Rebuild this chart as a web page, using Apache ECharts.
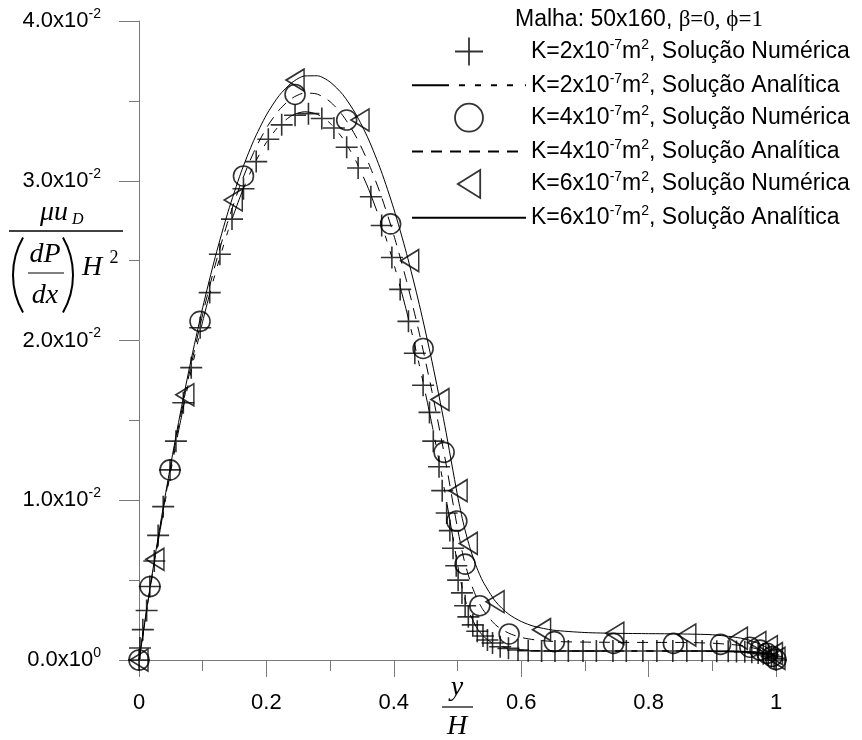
<!DOCTYPE html>
<html>
<head>
    <meta charset="UTF-8">
    <title>Perfil de velocidade - Malha 50x160</title>
    <style>
        html, body { margin: 0; padding: 0; background: #fff; }
        #main { width: 862px; height: 740px; }
    </style>
</head>
<body>
<div id="main"></div>
<script src="https://cdn.jsdelivr.net/npm/echarts@6.0.0/dist/echarts.min.js"></script>
<script>
    // ---- dados ----
    // K=2x10-7 m2, solucao numerica (cruzes)
    var numX2 = [0, 0.0016, 0.006, 0.012, 0.017, 0.024, 0.030, 0.038, 0.0487, 0.058, 0.0696, 0.082, 0.096,
        0.111, 0.127, 0.146, 0.164, 0.184, 0.203, 0.224, 0.245, 0.266, 0.287, 0.306, 0.326, 0.344, 0.364,
        0.381, 0.397, 0.410, 0.423, 0.433, 0.446, 0.456, 0.462, 0.471, 0.476, 0.483, 0.488, 0.493, 0.498,
        0.501, 0.507, 0.512, 0.517, 0.524, 0.531, 0.540, 0.547, 0.555, 0.567, 0.580, 0.595, 0.611, 0.632,
        0.653, 0.674, 0.697, 0.718, 0.744, 0.765, 0.791, 0.813, 0.838, 0.860, 0.884, 0.907, 0.925, 0.938,
        0.951, 0.962, 0.972, 0.980, 0.988, 0.993, 0.997, 1.0];
    var numY2 = [0, 0.00075, 0.0019, 0.0031, 0.0046, 0.0062, 0.0078, 0.0096, 0.0119, 0.0137, 0.0161, 0.0183, 0.0208,
        0.0230, 0.0254, 0.0276, 0.0295, 0.0312, 0.0326, 0.0335, 0.0341, 0.0342, 0.0339, 0.0333, 0.0321, 0.0308, 0.0290,
        0.0272, 0.0252, 0.0232, 0.0212, 0.0192, 0.0172, 0.0155, 0.0137, 0.0121, 0.0106, 0.0092, 0.0081, 0.0070, 0.0059,
        0.0050, 0.0042, 0.0034, 0.0027, 0.0022, 0.0018, 0.0015, 0.00125, 0.00106, 0.00083, 0.00073, 0.00063, 0.00058, 0.00056,
        0.00056, 0.00056, 0.00056, 0.00056, 0.00056, 0.00056, 0.00056, 0.00056, 0.00056, 0.00056, 0.00056, 0.00055, 0.00054, 0.00053,
        0.00051, 0.00048, 0.00044, 0.00039, 0.00031, 0.00022, 0.00011, 0];

    // K=2x10-7 m2, solucao analitica
    var anaX2 = [0, 0.02, 0.04, 0.06, 0.08, 0.10, 0.12, 0.14, 0.16, 0.18, 0.20, 0.22, 0.24, 0.26, 0.28, 0.30,
        0.32, 0.34, 0.36, 0.38, 0.40, 0.42, 0.44, 0.46, 0.48, 0.50, 0.505, 0.51, 0.515, 0.52, 0.53, 0.54, 0.55,
        0.56, 0.58, 0.60, 0.63, 0.66, 0.80, 0.90, 0.94, 0.96, 0.98, 0.99, 1.0];
    var anaY2 = [0, 0.00504, 0.00968, 0.01392, 0.01776, 0.02120, 0.02424, 0.02688, 0.02912, 0.03096, 0.03240,
        0.03344, 0.03408, 0.03432, 0.03416, 0.03360, 0.03264, 0.03128, 0.02952, 0.02736, 0.02480, 0.02184, 0.01848,
        0.01472, 0.01056, 0.00600, 0.00494, 0.00408, 0.00339, 0.00284, 0.00203, 0.00152, 0.00118, 0.00096, 0.00073,
        0.00063, 0.00058, 0.00056, 0.00056, 0.00056, 0.00054, 0.00049, 0.00036, 0.00023, 0];

    // K=4x10-7 m2, solucao numerica (circulos)
    var numX4 = [0, 0.0173, 0.0487, 0.0958, 0.164, 0.245, 0.326, 0.395, 0.446, 0.479, 0.499, 0.512, 0.535,
        0.581, 0.652, 0.745, 0.839, 0.913, 0.959, 0.975, 0.986, 0.994, 1.0];
    var numY4 = [0, 0.0046, 0.0119, 0.0212, 0.0303, 0.0354, 0.0338, 0.0273, 0.0195, 0.0130, 0.0087, 0.0060, 0.0034,
        0.00163, 0.00115, 0.00104, 0.00104, 0.00098, 0.00080, 0.00062, 0.00042, 0.00022, 0.00003];

    // K=4x10-7 m2, solucao analitica
    var anaX4 = [0, 0.02, 0.04, 0.06, 0.08, 0.10, 0.12, 0.14, 0.16, 0.18, 0.20, 0.22, 0.24, 0.26, 0.28, 0.30,
        0.32, 0.34, 0.36, 0.38, 0.40, 0.42, 0.44, 0.46, 0.48, 0.50, 0.51, 0.52, 0.53, 0.54, 0.56, 0.58, 0.60,
        0.63, 0.66, 0.70, 0.80, 0.85, 0.90, 0.94, 0.96, 0.98, 0.99, 1.0];
    var anaY4 = [0, 0.00513, 0.00986, 0.01419, 0.01812, 0.02165, 0.02478, 0.02751, 0.02984, 0.03177, 0.03330,
        0.03443, 0.03516, 0.03549, 0.03542, 0.03495, 0.03408, 0.03281, 0.03114, 0.02907, 0.02660, 0.02373, 0.02046,
        0.01679, 0.01272, 0.00825, 0.00633, 0.00493, 0.00390, 0.00315, 0.00219, 0.00169, 0.00141, 0.00122, 0.00115,
        0.00112, 0.00110, 0.00110, 0.00105, 0.00093, 0.00080, 0.00055, 0.00035, 0];

    // K=6x10-7 m2, solucao numerica (triangulos)
    var numX6 = [0, 0.025, 0.072, 0.148, 0.245, 0.347, 0.425, 0.4725, 0.501, 0.517, 0.559, 0.632, 0.747,
        0.860, 0.941, 0.970, 0.988, 0.996, 1.0];
    var numY6 = [0, 0.0063, 0.0166, 0.0288, 0.0363, 0.0338, 0.0250, 0.0163, 0.0106, 0.0073, 0.00365, 0.0019, 0.00167,
        0.00156, 0.00136, 0.0011, 0.00083, 0.0004, 0.0001];

    // K=6x10-7 m2, solucao analitica
    var anaX6 = [0, 0.02, 0.04, 0.06, 0.08, 0.10, 0.12, 0.14, 0.16, 0.18, 0.20, 0.22, 0.24, 0.26, 0.28, 0.30,
        0.32, 0.34, 0.36, 0.38, 0.40, 0.42, 0.44, 0.46, 0.48, 0.50, 0.51, 0.52, 0.53, 0.54, 0.56, 0.58, 0.60,
        0.62, 0.65, 0.70, 0.75, 0.80, 0.85, 0.90, 0.94, 0.96, 0.98, 0.99, 1.0];
    var anaY6 = [0, 0.00521, 0.01002, 0.01444, 0.01845, 0.02206, 0.02527, 0.02808, 0.03050, 0.03251, 0.03412,
        0.03533, 0.03614, 0.03656, 0.03657, 0.03618, 0.03539, 0.03420, 0.03262, 0.03063, 0.02824, 0.02545, 0.02226,
        0.01868, 0.01469, 0.01030, 0.00843, 0.00696, 0.00581, 0.00491, 0.00365, 0.00288, 0.00241, 0.00211, 0.00187,
        0.00172, 0.00167, 0.00165, 0.00163, 0.00158, 0.00140, 0.00122, 0.00090, 0.00060, 0];

    // legenda
    var seriesNames = [
        'K=2x10-7m2, Solução Numérica',
        'K=2x10-7m2, Solução Analítica',
        'K=4x10-7m2, Solução Numérica',
        'K=4x10-7m2, Solução Analítica',
        'K=6x10-7m2, Solução Numérica',
        'K=6x10-7m2, Solução Analítica'
    ];
    var kLabels = ['2', '2', '4', '4', '6', '6'];
    var kindLabels = ['Numérica', 'Analítica', 'Numérica', 'Analítica', 'Numérica', 'Analítica'];

    // eixos
    var yTickValues = [0, 0.01, 0.02, 0.03, 0.04];
    var yTickMant = ['0.0', '1.0', '2.0', '3.0', '4.0'];
    var yTickExp = ['0', '-2', '-2', '-2', '-2'];

    function pairs(xs, ys) {
        var out = [];
        for (var i = 0; i < xs.length; i++) {
            out.push([xs[i], ys[i]]);
        }
        return out;
    }

    var sans = '"Liberation Sans", Arial, sans-serif';
    var serif = '"Liberation Serif", "Times New Roman", serif';
    var axisGrey = '#7a7a7a';

    var plusPath = 'path://M0,-1L0,1M-1,0L1,0';
    var triPath = 'path://M0.8,-1L-0.8,0L0.8,1Z';
    // as linhas nao devem mostrar simbolo na legenda
    var noSymbolStyle = {color: 'transparent', borderColor: 'transparent', borderWidth: 0};

    var myChart = echarts.init(document.getElementById('main'));

    var option = {
        animation: false,
        backgroundColor: '#fff',
        grid: {left: 139, right: 86, top: 21, bottom: 80},
        legend: {
            orient: 'vertical',
            left: 406,
            top: 30,
            itemWidth: 114,
            itemHeight: 28,
            itemGap: 3.8,
            symbolKeepAspect: true,
            selectedMode: false,
            data: seriesNames,
            itemStyle: {borderWidth: 1.8},
            formatter: function (name) {
                var i = seriesNames.indexOf(name);
                return '{n|K=' + kLabels[i] + 'x10}{s|-7}{n|m}{s|2}{n|, Solução ' + kindLabels[i] + '}';
            },
            textStyle: {
                color: '#000',
                rich: {
                    n: {fontFamily: sans, fontSize: 23, color: '#000', lineHeight: 27},
                    s: {fontFamily: sans, fontSize: 14, color: '#000', verticalAlign: 'top'}
                }
            }
        },
        xAxis: {
            type: 'value',
            min: 0,
            max: 1,
            interval: 0.2,
            axisLine: {lineStyle: {color: axisGrey, width: 1}},
            axisTick: {length: 17, lineStyle: {color: axisGrey}},
            minorTick: {show: true, splitNumber: 2, length: 11, lineStyle: {color: axisGrey}},
            splitLine: {show: false},
            axisLabel: {
                margin: 32,
                color: '#000',
                fontFamily: sans,
                fontSize: 22,
                formatter: function (v) {
                    if (v === 0) return '0';
                    if (v === 1) return '1';
                    return v.toFixed(1);
                }
            }
        },
        yAxis: {
            type: 'value',
            min: 0,
            max: 0.04,
            interval: 0.01,
            axisLine: {lineStyle: {color: axisGrey, width: 1}},
            axisTick: {length: 20, lineStyle: {color: axisGrey}},
            minorTick: {show: true, splitNumber: 2, length: 10, lineStyle: {color: axisGrey}},
            splitLine: {show: false},
            axisLabel: {
                margin: 38,
                color: '#000',
                formatter: function (v) {
                    var i = 0;
                    for (var k = 0; k < yTickValues.length; k++) {
                        if (Math.abs(yTickValues[k] - v) < 1e-9) i = k;
                    }
                    return '{m|' + yTickMant[i] + 'x10}{e|' + yTickExp[i] + '}';
                },
                rich: {
                    m: {fontFamily: sans, fontSize: 22, color: '#000', lineHeight: 28},
                    e: {fontFamily: sans, fontSize: 14, color: '#000', verticalAlign: 'top'}
                }
            }
        },
        series: [
            {
                name: seriesNames[0],
                type: 'scatter',
                data: pairs(numX2, numY2),
                symbol: plusPath,
                symbolSize: 22,
                clip: false,
                z: 5,
                itemStyle: {color: 'none', borderColor: '#000', borderWidth: 1.6}
            },
            {
                name: seriesNames[1],
                type: 'line',
                data: pairs(anaX2, anaY2),
                symbol: 'none',
                smooth: 0.25,
                clip: false,
                itemStyle: noSymbolStyle,
                lineStyle: {color: '#000', width: 1, type: [37, 10, 6, 10, 6, 10, 6, 10, 6, 12]}
            },
            {
                name: seriesNames[2],
                type: 'scatter',
                data: pairs(numX4, numY4),
                symbol: 'circle',
                symbolSize: 20,
                clip: false,
                z: 5,
                itemStyle: {color: 'none', borderColor: '#000', borderWidth: 1.6}
            },
            {
                name: seriesNames[3],
                type: 'line',
                data: pairs(anaX4, anaY4),
                symbol: 'none',
                smooth: 0.25,
                clip: false,
                itemStyle: noSymbolStyle,
                lineStyle: {color: '#000', width: 1, type: [11, 8]}
            },
            {
                name: seriesNames[4],
                type: 'scatter',
                data: pairs(numX6, numY6),
                symbol: triPath,
                symbolSize: [18, 22],
                symbolKeepAspect: false,
                clip: false,
                z: 5,
                itemStyle: {color: 'none', borderColor: '#000', borderWidth: 1.6}
            },
            {
                name: seriesNames[5],
                type: 'line',
                data: pairs(anaX6, anaY6),
                symbol: 'none',
                smooth: 0.25,
                clip: false,
                itemStyle: noSymbolStyle,
                lineStyle: {color: '#000', width: 1, type: 'solid'}
            }
        ],
        graphic: [
            // titulo da legenda
            {
                type: 'text',
                left: 515,
                top: 8,
                style: {
                    text: '{a|Malha: 50x160, }{b|β=0, ϕ=1}',
                    rich: {
                        a: {fontFamily: sans, fontSize: 23, fill: '#000', lineHeight: 27},
                        b: {fontFamily: serif, fontSize: 23, fill: '#000', lineHeight: 27}
                    }
                }
            },
            // titulo eixo y: mu u_D / ((dP/dx) H^2)
            {
                type: 'text', x: 40, y: 213,
                style: {
                    text: '{a|μu}{b| D}',
                    align: 'left',
                    verticalAlign: 'middle',
                    rich: {
                        a: {font: 'italic 28px ' + serif, fill: '#000', lineHeight: 30},
                        b: {font: 'italic 16px ' + serif, fill: '#000', verticalAlign: 'bottom'}
                    }
                }
            },
            {type: 'line', shape: {x1: 9, y1: 231, x2: 123, y2: 231}, style: {stroke: '#000', lineWidth: 1.5}},
            {type: 'arc', shape: {cx: 88, cy: 275, r: 75, startAngle: Math.PI * 5 / 6, endAngle: Math.PI * 7 / 6}, style: {stroke: '#000', lineWidth: 2, fill: null}},
            {type: 'arc', shape: {cx: -2, cy: 275, r: 75, startAngle: -Math.PI / 6, endAngle: Math.PI / 6}, style: {stroke: '#000', lineWidth: 2, fill: null}},
            {type: 'text', x: 45, y: 255, style: {text: 'dP', font: 'italic 28px ' + serif, fill: '#000', align: 'center', verticalAlign: 'middle'}},
            {type: 'line', shape: {x1: 28, y1: 273, x2: 64, y2: 273}, style: {stroke: '#000', lineWidth: 1.2}},
            {type: 'text', x: 45, y: 296, style: {text: 'dx', font: 'italic 28px ' + serif, fill: '#000', align: 'center', verticalAlign: 'middle'}},
            {type: 'text', x: 92, y: 268, style: {text: 'H', font: 'italic 28px ' + serif, fill: '#000', align: 'center', verticalAlign: 'middle'}},
            {type: 'text', x: 114, y: 258, style: {text: '2', font: '18px ' + serif, fill: '#000', align: 'center', verticalAlign: 'middle'}},
            // titulo eixo x: y/H
            {type: 'text', x: 457, y: 688, style: {text: 'y', font: 'italic 28px ' + serif, fill: '#000', align: 'center', verticalAlign: 'middle'}},
            {type: 'line', shape: {x1: 442, y1: 707, x2: 473, y2: 707}, style: {stroke: '#000', lineWidth: 1.2}},
            {type: 'text', x: 457, y: 727, style: {text: 'H', font: 'italic 28px ' + serif, fill: '#000', align: 'center', verticalAlign: 'middle'}}
        ]
    };

    myChart.setOption(option);
</script>
</body>
</html>
